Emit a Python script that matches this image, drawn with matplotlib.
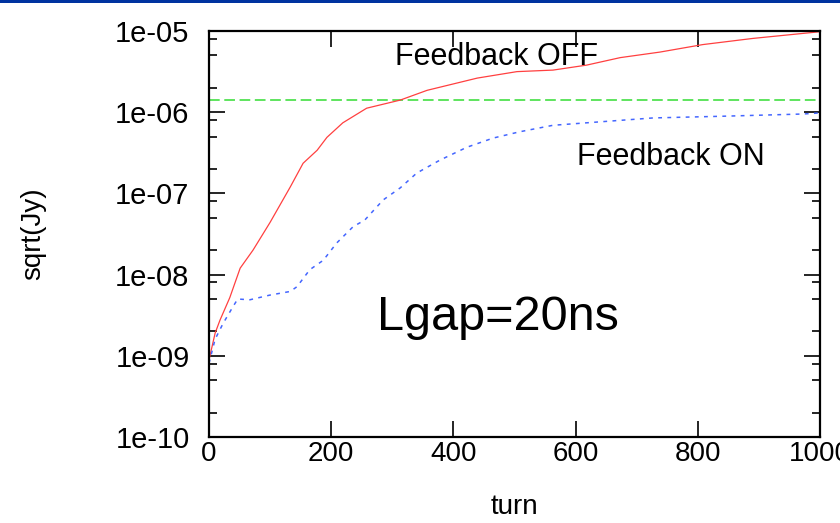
import matplotlib
matplotlib.use("Agg")
from matplotlib import pyplot as plt
from matplotlib import patches as patches
from matplotlib.ticker import LogLocator, NullFormatter, FixedLocator

plt.rcParams['font.family'] = ['Liberation Sans', 'DejaVu Sans']

# feedback OFF (red)
turn_off = [0, 10, 18, 34, 43, 51, 72, 100, 133, 154, 177, 193, 219, 258, 313,
            357, 439, 504, 563, 618, 673, 738, 808, 890, 1000]
jy_off = [8.9e-10, 1.9e-9, 2.75e-9, 5.2e-9, 8.1e-9, 1.2e-8, 2.0e-8, 4.4e-8,
          1.2e-7, 2.35e-7, 3.4e-7, 4.9e-7, 7.4e-7, 1.12e-6, 1.41e-6, 1.86e-6,
          2.63e-6, 3.16e-6, 3.3e-6, 3.8e-6, 4.7e-6, 5.5e-6, 6.8e-6, 8.1e-6, 9.8e-6]

# feedback ON (blue)
turn_on = [0, 10, 23, 39, 47, 67, 100, 133, 144, 165, 187, 209, 236, 255, 285,
           313, 340, 378, 422, 465, 509, 563, 618, 727, 836, 972, 1000]
jy_on = [8.1e-10, 1.6e-9, 2.5e-9, 4.0e-9, 5.0e-9, 4.9e-9, 5.6e-9, 6.2e-9, 7.1e-9,
         1.15e-8, 1.5e-8, 2.45e-8, 3.9e-8, 4.7e-8, 8.3e-8, 1.17e-7, 1.78e-7,
         2.57e-7, 3.7e-7, 4.8e-7, 5.75e-7, 6.9e-7, 7.4e-7, 8.5e-7, 8.9e-7, 9.5e-7, 9.8e-7]

threshold = 1.4e-6
x_ticks = [0, 200, 400, 600, 800, 1000]
y_ticks = [1e-10, 1e-9, 1e-8, 1e-7, 1e-6, 1e-5]
y_labels = ["1e-10", "1e-09", "1e-08", "1e-07", "1e-06", "1e-05"]

fig = plt.figure(figsize=(8.4, 5.23), dpi=100)
ax = fig.add_axes([209 / 840, 1 - 437 / 523, (820 - 209) / 840, (437 - 31) / 523])

# slide header bar
fig.patches.append(patches.Rectangle((0, 1 - 3 / 523), 1, 3 / 523, transform=fig.transFigure,
                                     facecolor='#0033a0', edgecolor='none'))

ax.axhline(threshold, color='#33dd33', lw=1.1, dashes=(7, 3))
ax.plot(turn_off, jy_off, color='#ff4040', lw=0.9)
ax.plot(turn_on, jy_on, color='#4466ff', lw=1.1, dashes=(2.5, 3.5))

ax.set_yscale('log')
ax.set_xlim(0, 1000)
ax.set_ylim(1e-10, 1e-5)
ax.xaxis.set_major_locator(FixedLocator(x_ticks))
ax.set_xticklabels([str(t) for t in x_ticks])
ax.yaxis.set_major_locator(FixedLocator(y_ticks))
ax.set_yticklabels(y_labels)
ax.yaxis.set_minor_locator(LogLocator(base=10, subs=[2, 5, 8]))
ax.yaxis.set_minor_formatter(NullFormatter())

for s in ax.spines.values():
    s.set_linewidth(1.6)
ax.tick_params(which='both', direction='in', top=True, right=True, width=1.2)
ax.tick_params(which='major', length=11.5)
ax.tick_params(which='minor', length=5.5)
ax.tick_params(axis='y', labelsize=21, pad=14)
ax.tick_params(axis='x', labelsize=20, pad=3)

ax.set_xlabel("turn", fontsize=20, labelpad=19)
ax.set_ylabel("sqrt(Jy)", fontsize=20, labelpad=50)

ax.text(304, 3.8e-6, "Feedback OFF", fontsize=22, va='baseline', ha='left')
ax.text(602, 2.24e-7, "Feedback ON", fontsize=22, va='baseline', ha='left')
ax.text(275, 2.1e-9, "Lgap=20ns", fontsize=35, va='baseline', ha='left')

fig.savefig("out.png", dpi=100)
